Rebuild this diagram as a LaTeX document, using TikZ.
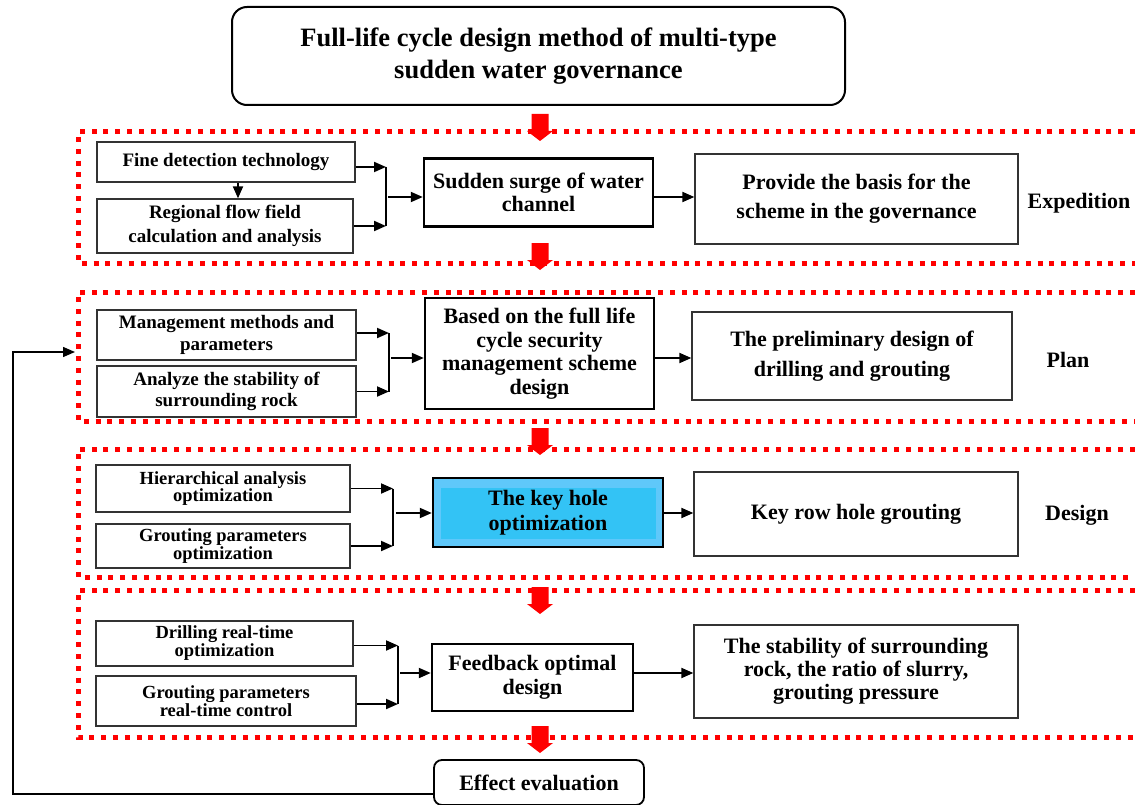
\documentclass[tikz,border=0pt]{standalone}
\usepackage{fontspec}
\setmainfont{Liberation Serif}
\usetikzlibrary{arrows.meta}
\definecolor{keyout}{RGB}{95,200,250}
\definecolor{keyin}{RGB}{51,195,245}
\begin{document}
\begin{tikzpicture}[x=1pt,y=-1pt,
  sbox/.style={draw=black!80, line width=1.3pt, fill=white, align=center, inner sep=1pt, font=\fontsize{19}{24}\selectfont\bfseries},
  mbox/.style={draw=black, line width=2.4pt, fill=white, align=center, inner sep=1pt, font=\fontsize{22}{23.5}\selectfont\bfseries},
  rbox/.style={draw=black!80, line width=1.3pt, fill=white, align=center, inner sep=1pt, font=\fontsize{22}{29}\selectfont\bfseries},
  arr/.style={-{Triangle[length=12pt,width=10pt]}, line width=1.9pt},
  ln/.style={line width=1.9pt},
  frame/.style={red, line width=5pt, dash pattern=on 5pt off 6.8pt},
  lbl/.style={font=\fontsize{22}{24}\selectfont\bfseries},
  redarr/.pic={\fill[red] (-8.5,0) -- (8.5,0) -- (8.5,17) -- (13,17) -- (0,27) -- (-13,17) -- (-8.5,17) -- cycle;}
]
\useasboundingbox (0,0) rectangle (1135,805);

% frames
\draw[frame] (1135,132) -- (78,132) -- (78,263) -- (1135,263);
\draw[frame] (1135,292) -- (78,292) -- (78,421) -- (1135,421);
\draw[frame] (1135,449) -- (78,449) -- (78,577) -- (1135,577);
\draw[frame] (1135,590) -- (78,590) -- (78,737) -- (1135,737);
\coordinate (f2w) at (75,352);

% title
\node[draw, line width=2pt, rounded corners=15pt, minimum width=613, minimum height=98, align=center,
  font=\fontsize{26.5}{32}\selectfont\bfseries] (title) at (538.5,56)
  {Full-life cycle design method of multi-type\\sudden water governance};

% red arrows
\pic at (540,114) {redarr};
\pic at (540,243) {redarr};
\pic at (540,428) {redarr};
\pic at (540,587) {redarr};
\pic at (540,726) {redarr};

% section 1
\node[sbox, minimum width=258, minimum height=40] (fine) at (226,162) {Fine detection technology};
\node[sbox, minimum width=256, minimum height=54] (reg) at (225,226) {Regional flow field\\calculation and analysis};
\node[mbox, minimum width=229, minimum height=68] (surge) at (538.5,192.5) {Sudden surge of water\\channel};
\node[rbox, minimum width=323, minimum height=90] (basis) at (856.5,199) {Provide the basis for the\\scheme in the governance};
\node[lbl] (exp) at (1079,203) {Expedition};
\coordinate (j1) at (386,197);
\draw[arr] (fine.south -| 238,0) -- (reg.north -| 238,0);
\draw[arr] ([yshift=-5pt]fine.east) -- ([yshift=-5pt]fine.east -| j1);
\draw[arr] (reg.east) -- (reg.east -| j1);
\draw[ln] ([yshift=-5pt]fine.east -| j1) -- (reg.east -| j1);
\draw[arr] ([xshift=2pt]j1) -- (j1 -| surge.west);
\draw[arr] (surge.east |- j1) -- (j1 -| basis.west);

% section 2
\node[sbox, minimum width=259, minimum height=50, font=\fontsize{19}{22}\selectfont\bfseries] (mgmt) at (226.5,335) {Management methods and\\parameters};
\node[sbox, minimum width=259, minimum height=51, font=\fontsize{19}{21}\selectfont\bfseries] (rock) at (226.5,391.5) {Analyze the stability of\\surrounding rock};
\node[mbox, minimum width=229, minimum height=111] (scheme) at (539.5,353.5) {Based on the full life\\cycle security\\management scheme\\design};
\node[rbox, minimum width=320, minimum height=88, font=\fontsize{22}{30}\selectfont\bfseries] (prelim) at (852,356) {The preliminary design of\\drilling and grouting};
\node[lbl] (plan) at (1068,360) {Plan};
\coordinate (j2) at (389,358);
\draw[arr] ([yshift=2pt]mgmt.east) -- ([yshift=2pt]mgmt.east -| j2);
\draw[arr] (rock.east) -- (rock.east -| j2);
\draw[ln] ([yshift=2pt]mgmt.east -| j2) -- (rock.east -| j2);
\draw[arr] ([xshift=2pt]j2) -- (j2 -| scheme.west);
\draw[arr] (scheme.east |- j2) -- (j2 -| prelim.west);

% section 3
\node[sbox, minimum width=254, minimum height=47, font=\fontsize{18.5}{17.5}\selectfont\bfseries] (hier) at (223,488.5) {Hierarchical analysis\\optimization};
\node[sbox, minimum width=254, minimum height=44, font=\fontsize{18.5}{17.5}\selectfont\bfseries] (gpo) at (223,546) {Grouting parameters\\optimization};
\node[mbox, fill=keyout, minimum width=230, minimum height=69, font=\fontsize{22}{25}\selectfont\bfseries,
  path picture={\fill[keyin] ([shift={(8pt,-10pt)}]path picture bounding box.north west) rectangle ([shift={(-7pt,8pt)}]path picture bounding box.south east);}] (key) at (548,512.5) {The key hole\\optimization};
\node[rbox, minimum width=324, minimum height=84] (keyrow) at (856,514) {Key row hole grouting};
\node[lbl] (des) at (1077,515) {Design};
\coordinate (j3) at (393,513);
\draw[arr] (hier.east) -- (hier.east -| j3);
\draw[arr] (gpo.east) -- (gpo.east -| j3);
\draw[ln] (hier.east -| j3) -- (gpo.east -| j3);
\draw[arr] ([xshift=3pt]j3) -- (j3 -| key.west);
\draw[arr] (key.east |- j3) -- (j3 -| keyrow.west);

% section 4
\node[sbox, minimum width=257, minimum height=45, font=\fontsize{18.5}{18}\selectfont\bfseries] (drill) at (224.5,643.5) {Drilling real-time\\optimization};
\node[sbox, minimum width=260, minimum height=50, font=\fontsize{18.5}{18}\selectfont\bfseries] (gprt) at (226,701) {Grouting parameters\\real-time control};
\node[mbox, minimum width=201, minimum height=67, font=\fontsize{22}{24}\selectfont\bfseries] (fb) at (532.5,677.5) {Feedback optimal\\design};
\node[rbox, minimum width=324, minimum height=93, font=\fontsize{22}{23}\selectfont\bfseries] (stab) at (856,671.5) {The stability of surrounding\\rock, the ratio of slurry,\\grouting pressure};
\coordinate (j4) at (398,673);
\draw[arr] ([yshift=-2pt]drill.east) -- ([yshift=-2pt]drill.east -| j4);
\draw[arr] ([yshift=-3pt]gprt.east) -- ([yshift=-3pt]gprt.east -| j4);
\draw[ln] ([yshift=-2pt]drill.east -| j4) -- ([yshift=-3pt]gprt.east -| j4);
\draw[arr] ([xshift=2pt]j4) -- (j4 -| fb.west);
\draw[arr] (fb.east |- j4) -- (j4 -| stab.west);

% effect evaluation and feedback loop
\node[draw, line width=1.8pt, rounded corners=8pt, fill=white, minimum width=210, minimum height=45,
  font=\fontsize{22}{24}\selectfont\bfseries] (eff) at (539,782.5) {Effect evaluation};
\draw[arr, line width=1.4pt] ([yshift=-11.5pt]eff.west) -| (13,352) -- (f2w);
\end{tikzpicture}
\end{document}
